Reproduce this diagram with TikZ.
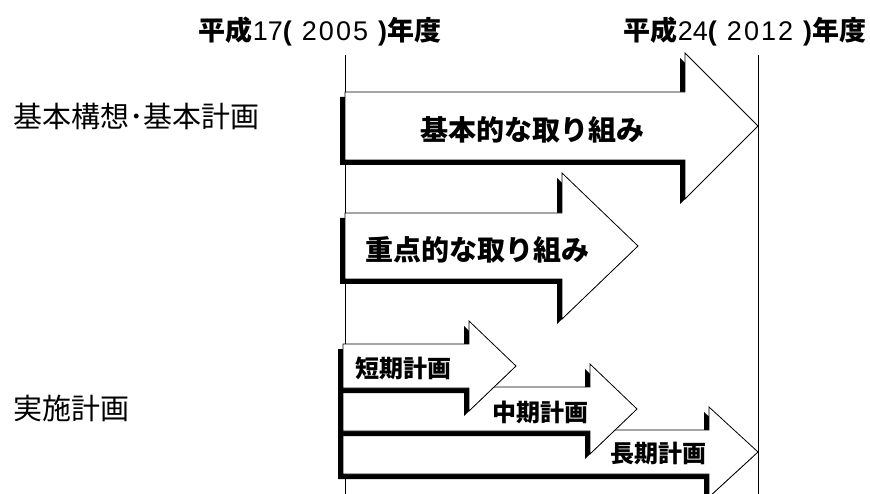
\documentclass[tikz,border=0pt]{standalone}
\usepackage{fontspec}
\setmainfont{Liberation Sans}
\newfontfamily\jp{Noto Sans CJK JP}
\newcommand\dg[4]{#1\kern2pt#2\kern2pt#3\kern2pt#4}
\tikzset{
  arrowbox/.style={fill=white, draw=black, line width=0.8pt, line join=miter},
  shadowfill/.style={fill=black},
  vline/.style={draw=black, line width=0.8pt},
  head/.style={font=\fontsize{27}{29}\selectfont, inner sep=0pt},
  side/.style={font=\fontsize{29}{31}\selectfont\jp, inner sep=0pt, anchor=west},
  biglab/.style={font=\fontsize{28}{30}\selectfont\jp\bfseries, inner sep=0pt},
  smalllab/.style={font=\fontsize{24}{26}\selectfont\jp\bfseries, inner sep=0pt}
}
\newcommand\DrawArrow[6]{%
  \fill[shadowfill, shift={(-5,5)}] (#1,#4-#5) -- (#2,#4-#5) -- (#2,#4-#6) -- (#3,#4) -- (#2,#4+#6) -- (#2,#4+#5) -- (#1,#4+#5) -- cycle;
  \filldraw[arrowbox] (#1,#4-#5) -- (#2,#4-#5) -- (#2,#4-#6) -- (#3,#4) -- (#2,#4+#6) -- (#2,#4+#5) -- (#1,#4+#5) -- cycle;
}
\begin{document}
\begin{tikzpicture}[x=1pt, y=-1pt]
\useasboundingbox (0,0) rectangle (870,494);
% time lines
\coordinate (lt) at (345,55);
\coordinate (lb) at (345,494);
\coordinate (rt) at (758,55);
\coordinate (rb) at (758,494);
\draw[vline] (lt) -- (lb);
\draw[vline] (rt) -- (rb);
% headers
\node[head] (h1) at (320,32) {{\jp\bfseries 平成}17\textbf{(}\kern10pt\dg 2005\kern10pt\textbf{)}{\jp\bfseries 年度}};
\node[head] (h2) at (745,32) {{\jp\bfseries 平成}24\textbf{(}\kern10pt\dg 2012\kern10pt\textbf{)}{\jp\bfseries 年度}};
% side labels
\node[side] (s1) at (13,116) {基本構想･基本計画};
\node[side] (s2) at (13,408) {実施計画};
% big arrows
\DrawArrow{345}{685}{758}{126}{34}{73}
\DrawArrow{345}{562}{638}{246}{33}{73}
% small arrows (drawn bottom-up)
\DrawArrow{343}{709}{758}{452}{22}{45}
\DrawArrow{343}{590}{637}{409}{22}{45}
\DrawArrow{343}{469}{516}{366}{22}{45}
% labels
\node[biglab] (a1) at (532,130) {基本的な取り組み};
\node[biglab] (a2) at (477,250) {重点的な取り組み};
\node[smalllab] (b1) at (403,368) {短期計画};
\node[smalllab] (b2) at (540,412) {中期計画};
\node[smalllab] (b3) at (658,453) {長期計画};
\end{tikzpicture}
\end{document}
